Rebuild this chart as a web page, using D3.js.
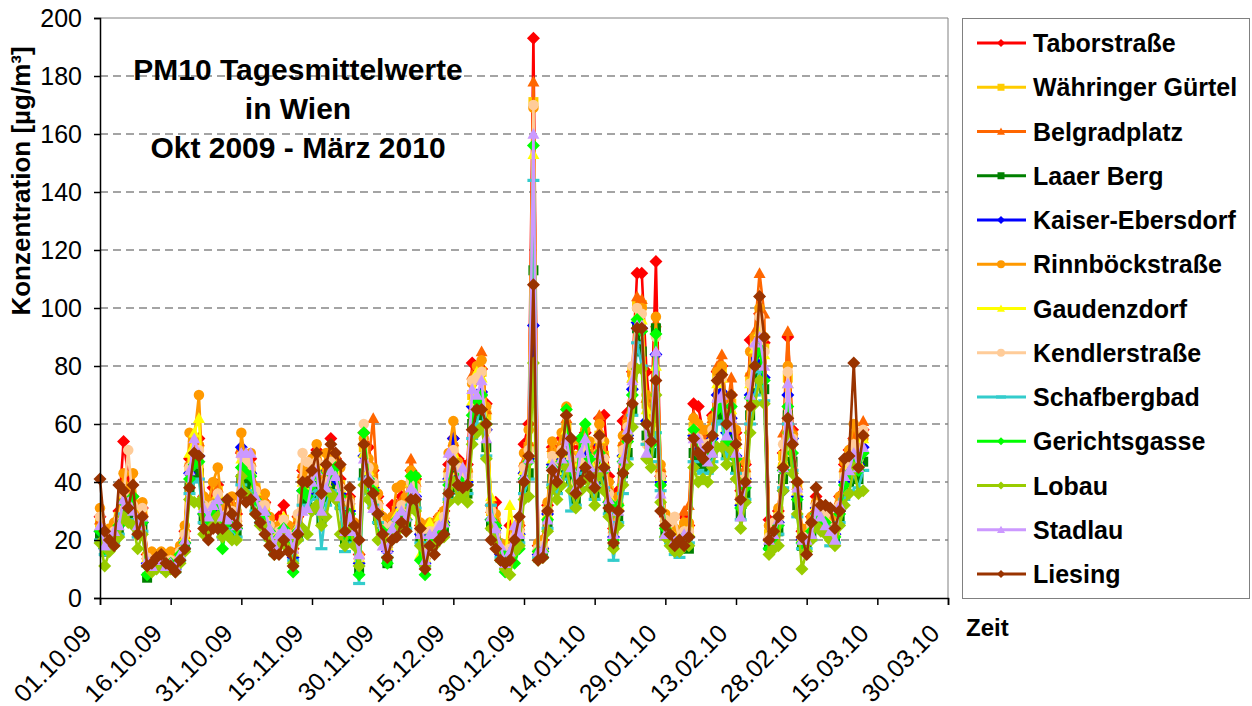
<!DOCTYPE html>
<html>
<head>
<meta charset="utf-8">
<script src="https://cdn.jsdelivr.net/npm/d3@7"></script>
<style>
  body { margin: 0; background: #fff; }
  text { font-family: "Liberation Sans", Arial, sans-serif; }
</style>
</head>
<body>
<script>
// ----------------------------------- DATA --------------------------------------------
// daily means, one value per day starting 01.10.2009
var firstDay = [2009, 9, 1]
var lastTickDay = [2010, 2, 30]
var tickStepDays = 15
var yTicks = [0, 20, 40, 60, 80, 100, 120, 140, 160, 180, 200]

var stationNames = ['Taborstraße', 'Währinger Gürtel', 'Belgradplatz', 'Laaer Berg', 'Kaiser-Ebersdorf',
	'Rinnböckstraße', 'Gaudenzdorf', 'Kendlerstraße', 'Schafbergbad', 'Gerichtsgasse', 'Lobau', 'Stadlau', 'Liesing']

var taborstrasse = [28,21,23,25,30,54,42,35,29,31, 15,13,14,15,13,14,13,17,23,48, 54,55,35,32,38,39,29,31,32,29,
	50,45,48,37,33,33,27,21,28,32, 24,17,28,44,41,46,51,35,44,55, 48,41,25,35,25,15,57,52,44,35,
	28,20,32,32,35,32,44,41,25,15, 25,25,28,30,46,55,48,46,46,81, 76,79,67,32,33,18,14,25,23,25,
	53,60,193,18,20,32,52,48,55,63, 52,44,52,57,52,46,62,63,42,24, 37,61,64,78,112,112,78,60,116,42,
	28,25,23,22,28,25,67,66,57,57, 63,78,80,64,70,57,37,46,89,88, 98,88,27,25,30,50,90,58,40,23,
	23,28,35,32,31,28,25,35,46,51, 55,52,58]
var waehringerGuertel = [26,19,22,24,28,37,35,32,27,29, 14,12,13,14,12,13,12,16,22,45, 51,52,32,30,32,37,27,29,30,27,
	50,48,45,38,32,32,26,19,24,27, 23,16,26,41,39,43,48,32,41,48, 45,39,24,32,24,14,52,45,41,32,
	26,18,26,30,32,30,41,39,24,14, 24,24,26,28,43,52,45,43,43,70, 76,78,63,30,26,17,13,17,22,24,
	45,52,171,17,18,30,50,45,52,59, 49,41,49,54,49,43,56,49,37,23, 32,52,60,78,101,101,67,59,92,43,
	27,24,22,21,24,24,59,56,54,54, 59,76,78,60,67,54,35,43,76,89, 99,86,22,24,28,49,76,56,38,22,
	22,26,32,30,29,26,24,32,43,48, 54,49,56]
var belgradplatz = [27,20,22,25,29,38,36,34,28,30, 15,12,13,15,12,13,12,17,22,47, 53,54,34,31,34,38,28,30,31,28,
	52,49,47,39,34,34,27,20,25,28, 24,17,27,43,40,45,49,34,43,49, 47,40,25,34,25,15,54,47,62,34,
	27,19,27,31,34,31,48,40,25,15, 25,25,27,29,45,54,47,45,45,77, 78,85,65,31,27,18,13,18,22,25,
	47,54,178,18,19,31,52,47,54,62, 50,43,50,56,50,45,63,50,38,24, 34,54,63,76,104,103,69,62,95,45,
	28,25,22,21,30,32,63,58,56,56, 62,80,84,63,76,56,36,45,78,92, 112,98,22,25,29,57,92,58,39,22,
	22,27,34,31,30,27,25,34,45,49, 56,50,61]
var laaerBerg = [22,16,18,20,23,31,29,27,23,24, 7,10,11,12,10,11,10,14,18,38, 42,43,27,25,27,31,23,24,25,23,
	41,40,38,32,27,27,22,16,20,23, 19,12,22,34,32,36,40,27,34,40, 38,32,20,27,20,10,43,38,34,27,
	22,12,22,25,27,25,34,32,20,12, 20,20,22,23,36,43,38,36,36,60, 63,65,52,25,22,14,11,14,18,20,
	38,43,113,14,15,25,41,38,43,50, 41,34,41,45,41,36,47,41,31,19, 27,43,50,65,93,85,56,50,93,40,
	23,20,18,17,20,17,50,47,45,45, 50,63,65,50,56,45,29,36,63,74, 83,72,18,20,23,41,63,47,32,18,
	18,22,27,25,24,22,20,27,36,40, 45,41,47]
var kaiserEbersdorf = [23,17,21,22,25,33,31,31,24,26, 12,11,12,14,11,12,10,15,19,43, 46,49,29,28,31,33,24,27,29,24,
	52,44,43,34,30,29,24,17,22,26, 21,14,24,37,36,41,44,29,39,45, 41,36,21,30,23,12,49,41,38,29,
	24,16,24,27,31,27,39,35,22,12, 22,21,25,26,41,55,42,39,40,66, 70,71,58,27,24,15,12,16,19,22,
	43,48,94,15,17,29,46,41,48,56, 44,38,46,50,44,40,53,45,33,21, 30,49,56,72,95,93,61,63,84,40,
	25,21,20,19,23,21,56,51,50,49, 55,70,71,57,62,49,32,41,70,82, 91,76,20,22,26,37,70,55,35,20,
	20,24,31,28,27,24,22,30,40,44, 50,46,52]
var rinnboeckstrasse = [31,22,24,26,28,43,38,43,30,33, 15,16,15,16,15,16,14,18,25,57, 55,70,35,33,40,45,30,32,35,30,
	57,45,50,38,33,36,28,22,25,27, 25,18,28,45,42,48,53,40,50,50, 48,45,26,34,26,15,55,48,45,36,
	28,20,28,38,39,35,44,42,26,15, 26,26,28,30,50,61,47,44,44,74, 80,82,66,32,29,19,14,19,24,26,
	50,58,169,19,20,33,54,50,57,66, 54,45,54,58,54,48,60,54,40,25, 35,56,60,77,100,100,70,62,97,46,
	29,26,24,22,26,26,62,60,58,58, 62,78,80,64,70,58,38,47,85,90, 100,90,25,26,31,46,80,56,40,24,
	24,28,33,32,31,28,26,35,47,51, 60,53,55]
var gaudenzdorf = [25,19,21,23,27,36,34,32,26,28, 14,12,13,14,12,13,12,16,21,50, 57,62,32,29,32,36,26,28,29,26,
	48,46,44,37,32,32,25,19,23,28, 22,16,25,40,38,42,46,32,40,46, 44,38,23,32,23,14,50,44,40,32,
	25,18,25,29,32,29,40,38,15,14, 26,23,28,27,42,50,44,42,42,68, 78,76,61,35,25,17,13,32,21,23,
	44,50,153,17,18,29,48,44,50,58, 47,40,47,53,47,42,55,47,35,20, 32,50,58,76,97,96,65,58,80,42,
	26,23,21,20,23,23,58,55,53,53, 58,74,76,59,65,53,34,42,74,86, 92,84,21,23,27,47,74,55,37,21,
	21,25,32,30,28,25,23,32,42,46, 53,47,55]
var kendlerstrasse = [28,19,21,23,27,36,51,32,27,31, 14,12,13,14,12,13,12,16,22,45, 50,51,32,30,32,36,27,29,30,27,
	49,47,45,37,32,32,25,19,23,27, 22,16,29,50,47,42,47,32,40,47, 45,38,23,33,23,14,60,45,40,32,
	25,18,25,25,32,30,40,38,23,14, 23,23,25,28,42,51,45,42,42,75, 76,78,58,30,22,17,13,17,21,23,
	45,51,170,17,18,30,49,45,51,63, 48,40,48,53,48,42,55,48,36,22, 32,51,59,80,100,98,53,58,90,42,
	27,26,28,20,23,23,58,55,53,53, 58,75,76,59,66,53,34,42,74,87, 97,85,21,26,28,53,78,55,37,21,
	21,25,32,30,29,25,23,32,42,47, 53,48,58]
var schafbergbad = [20,15,17,19,22,29,27,26,21,23, 11,9,10,11,9,10,9,13,17,36, 40,41,26,24,26,29,21,23,24,21,
	39,37,36,30,26,26,20,15,19,21, 18,13,20,32,31,34,37,17,32,37, 36,31,16,26,19,5,41,36,32,26,
	20,14,20,24,26,24,32,31,19,11, 19,19,20,22,34,41,36,34,36,55, 60,70,49,32,20,14,10,14,17,19,
	36,41,144,14,14,24,39,36,41,47, 30,32,38,43,38,34,44,38,29,13, 26,36,48,63,88,80,53,47,57,37,
	21,19,15,14,19,19,47,44,43,43, 47,60,61,48,53,43,27,34,60,70, 78,68,17,19,22,38,60,44,28,17,
	17,20,26,24,23,18,19,26,34,37, 43,38,44]
var gerichtsgasse = [23,17,19,21,25,33,31,35,24,26, 8,11,12,13,11,12,11,15,19,41, 46,47,29,27,29,33,17,26,27,24,
	45,43,42,34,29,29,23,17,21,24, 20,9,23,37,35,39,43,29,37,43, 45,35,21,29,21,8,57,41,37,29,
	23,12,23,27,29,27,42,42,13,8, 21,21,23,25,39,47,41,39,39,63, 68,70,60,27,25,16,9,15,12,17,
	41,47,156,16,16,27,45,41,47,65, 44,37,55,60,48,39,50,44,33,20, 32,47,54,70,96,92,60,53,91,39,
	24,21,19,18,21,21,58,50,49,49, 53,65,66,54,66,48,31,38,69,80, 86,75,17,21,25,44,66,50,34,19,
	19,23,29,27,26,23,21,29,39,43, 49,44,50]
var lobau = [19,11,16,18,21,28,26,25,17,22, 11,9,10,11,9,10,9,12,16,34, 33,33,22,23,25,28,21,22,20,20,
	42,36,34,29,25,25,20,15,18,21, 17,12,20,24,22,30,32,25,28,36, 34,22,18,25,18,11,39,34,31,20,
	20,14,20,23,25,23,31,30,18,11, 18,18,20,21,33,40,34,36,33,53, 57,59,48,24,20,13,10,8,16,18,
	34,35,81,13,14,23,38,34,39,45, 37,31,37,41,38,32,43,37,28,17, 25,39,46,59,79,79,48,45,70,33,
	21,18,16,16,18,18,45,40,41,40, 45,52,52,46,51,41,24,33,57,67, 75,67,15,17,18,37,57,43,29,10,
	16,20,25,23,22,20,18,25,32,36, 45,36,37]
var stadlau = [25,18,20,23,25,34,33,30,25,28, 13,11,13,13,11,12,11,15,20,44, 55,50,31,28,32,34,28,27,28,25,
	50,50,50,35,30,30,24,18,22,24, 22,17,24,30,31,40,44,30,38,44, 42,35,23,28,23,15,48,42,31,30,
	18,17,24,28,30,28,38,36,22,13, 22,22,25,26,50,48,40,45,40,72, 70,75,55,28,24,18,12,16,25,22,
	42,48,160,16,17,27,46,42,48,55, 45,38,50,55,45,40,50,45,34,22, 30,48,58,75,94,94,50,55,85,36,
	22,22,20,19,22,22,55,55,50,47, 50,69,70,56,62,50,28,40,70,88, 90,80,20,22,27,45,74,55,38,20,
	20,22,30,28,25,23,20,32,42,44, 50,45,52]
var liesing = [41,23,20,18,39,37,31,39,22,28, 11,12,14,15,12,11,9,13,17,38, 50,49,24,20,24,24,24,34,29,25,
	36,33,34,29,26,22,18,15,15,20, 16,11,22,40,40,44,50,36,46,53, 50,46,23,38,25,20,53,40,36,29,
	22,14,20,21,26,23,34,34,24,10, 18,15,20,22,36,47,39,38,39,58, 65,65,60,20,17,13,12,13,20,28,
	40,49,108,13,14,30,44,40,50,63, 55,36,40,45,42,38,56,45,31,19, 30,43,55,67,93,93,60,54,75,30,
	25,22,18,20,18,21,55,50,48,52, 56,75,77,60,70,53,34,40,66,80, 104,90,20,23,28,45,62,53,40,21,
	15,26,38,32,32,31,24,30,48,49, 81,45,56]

var stationValues = [taborstrasse, waehringerGuertel, belgradplatz, laaerBerg, kaiserEbersdorf,
	rinnboeckstrasse, gaudenzdorf, kendlerstrasse, schafbergbad, gerichtsgasse, lobau, stadlau, liesing]
// ----------------------------------------------------------------------------------------------

// ----------------------------------- STYLES --------------------------------------------
var stationColors = ['#FF0000', '#FFCC00', '#FF6600', '#008000', '#0000FF', '#FF9900', '#FFFF00',
	'#FFCC99', '#33CCCC', '#00FF00', '#99CC00', '#CC99FF', '#993300']
var stationShapes = ['diamond', 'square', 'triangle', 'square', 'diamond', 'circle', 'triangle',
	'circle', 'dash', 'diamond', 'diamond', 'triangle', 'diamond']
var plotSize = {diamond: 13, square: 10, triangle: 12, circle: 10.5, dash: 12}
var legendSize = {diamond: 8, square: 7, triangle: 8, circle: 8, dash: 10}
// ----------------------------------------------------------------------------------------------

// ----------------------------------- SVG and BACKGROUND --------------------------------------------
var width = 1252
var height = 706
var plotLeft = 100, plotRight = 948, plotTop = 18, plotBottom = 598

var svg = d3.select('body')
			.append('svg')
			.attr('width', width)
			.attr('height', height)

svg.append('rect')
	.attr('width', '100%')
	.attr('height', '100%')
	.attr('fill', '#ffffff')

var stations = stationNames.map(function(name, i){
	return {name: name, values: stationValues[i], color: stationColors[i], shape: stationShapes[i]}
})
// ----------------------------------------------------------------------------------------------

// ----------------------------------- SCALES --------------------------------------------
var day0 = Date.UTC(firstDay[0], firstDay[1], firstDay[2])
var dayN = Date.UTC(lastTickDay[0], lastTickDay[1], lastTickDay[2])
function dayDate(i){ return new Date(Date.UTC(firstDay[0], firstDay[1], firstDay[2] + i)) }

var x = d3.scaleUtc()
	.domain([new Date(day0), new Date(dayN)])
	.range([plotLeft, plotRight])

var y = d3.scaleLinear()
	.domain([0, 200])
	.range([plotBottom, plotTop])

var nTicks = Math.round((dayN - day0) / 864e5 / tickStepDays)
var xTickValues = d3.range(nTicks + 1).map(function(k){ return dayDate(k * tickStepDays) })
// ----------------------------------------------------------------------------------------------

// ----------------------------------- GRID and FRAME --------------------------------------------
svg.append('g')
	.selectAll('line')
	.data(yTicks.filter(function(t){ return t > 0 && t < 200 }))
	.enter()
	.append('line')
	.attr('x1', plotLeft)
	.attr('x2', plotRight)
	.attr('y1', function(d){ return y(d) })
	.attr('y2', function(d){ return y(d) })
	.attr('stroke', '#4a4a4a')
	.attr('stroke-width', 1.2)
	.attr('stroke-dasharray', '8,5')

// plot area border (top + right)
svg.append('path')
	.attr('d', 'M' + plotLeft + ',' + plotTop + 'H' + plotRight + 'V' + plotBottom)
	.attr('fill', 'none')
	.attr('stroke', '#808080')
	.attr('stroke-width', 1)
// ----------------------------------------------------------------------------------------------

// ----------------------------------- MARKERS --------------------------------------------
function markerPath(shape, s){
	var h = s / 2
	if (shape == 'diamond') return 'M0,' + (-h) + 'L' + h + ',0L0,' + h + 'L' + (-h) + ',0Z'
	if (shape == 'square') return 'M' + (-h) + ',' + (-h) + 'h' + s + 'v' + s + 'h' + (-s) + 'Z'
	if (shape == 'triangle') return 'M0,' + (-h) + 'L' + h + ',' + (h * 0.8) + 'L' + (-h) + ',' + (h * 0.8) + 'Z'
	if (shape == 'circle') return d3.symbol(d3.symbolCircle, Math.PI * h * h)()
	return 'M' + (-h) + ',-1.6h' + s + 'v3.2h' + (-s) + 'Z'
}
// ----------------------------------------------------------------------------------------------

// ----------------------------------- SERIES --------------------------------------------
var line = d3.line()
	.x(function(d, i){ return x(dayDate(i)) })
	.y(function(d){ return y(d) })

var series = svg.append('g')
	.selectAll('g')
	.data(stations)
	.enter()
	.append('g')

series.append('path')
	.attr('d', function(d){ return line(d.values) })
	.attr('fill', 'none')
	.attr('stroke', function(d){ return d.color })
	.attr('stroke-width', 2.6)
	.attr('stroke-linejoin', 'round')

series.each(function(s){
	d3.select(this)
		.selectAll('path.marker')
		.data(s.values)
		.enter()
		.append('path')
		.attr('class', 'marker')
		.attr('d', markerPath(s.shape, plotSize[s.shape]))
		.attr('transform', function(d, i){ return 'translate(' + x(dayDate(i)) + ',' + y(d) + ')' })
		.attr('fill', s.color)
})
// ----------------------------------------------------------------------------------------------

// ----------------------------------- AXES --------------------------------------------
var yAxis = svg.append('g')
	.attr('transform', 'translate(' + plotLeft + ',0)')
	.call(d3.axisLeft(y).tickValues(yTicks).tickSize(6).tickPadding(12))

var xAxis = svg.append('g')
	.attr('transform', 'translate(0,' + plotBottom + ')')
	.call(d3.axisBottom(x).tickValues(xTickValues).tickSize(7).tickFormat(''))

svg.selectAll('.domain, .tick line')
	.attr('stroke', '#000')
	.attr('stroke-width', 1.5)

yAxis.selectAll('text')
	.attr('font-size', 25)
	.attr('fill', '#000')
	.style('font-family', '"Liberation Sans", Arial, sans-serif')

svg.append('g')
	.selectAll('text')
	.data(xTickValues)
	.enter()
	.append('text')
	.attr('transform', function(d){ return 'translate(' + (x(d) - 7) + ',' + (plotBottom + 37) + ') rotate(-45)' })
	.attr('text-anchor', 'end')
	.attr('font-size', 25)
	.text(d3.utcFormat('%d.%m.%y'))

svg.append('text')
	.attr('transform', 'translate(30,181) rotate(-90)')
	.attr('text-anchor', 'middle')
	.attr('font-size', 26)
	.attr('font-weight', 'bold')
	.text('Konzentration [µg/m³]')

svg.append('text')
	.attr('x', 966)
	.attr('y', 636)
	.attr('font-size', 24)
	.attr('font-weight', 'bold')
	.text('Zeit')
// ----------------------------------------------------------------------------------------------

// ----------------------------------- TITLE --------------------------------------------
var titleLines = ['PM10 Tagesmittelwerte', 'in Wien', 'Okt 2009 - März 2010']

svg.append('g')
	.selectAll('text')
	.data(titleLines)
	.enter()
	.append('text')
	.attr('x', 298)
	.attr('y', function(d, i){ return 80 + i * 39 })
	.attr('text-anchor', 'middle')
	.attr('font-size', 30)
	.attr('font-weight', 'bold')
	.text(function(d){ return d })
// ----------------------------------------------------------------------------------------------

// ----------------------------------- LEGEND --------------------------------------------
var legend = svg.append('g')

legend.append('rect')
	.attr('x', 962.5)
	.attr('y', 18.5)
	.attr('width', 287)
	.attr('height', 580)
	.attr('fill', '#fff')
	.attr('stroke', '#808080')

var items = legend.selectAll('g.item')
	.data(stations)
	.enter()
	.append('g')
	.attr('class', 'item')
	.attr('transform', function(d, i){ return 'translate(0,' + (43 + i * 44.25) + ')' })

items.append('line')
	.attr('x1', 977)
	.attr('x2', 1026)
	.attr('stroke', function(d){ return d.color })
	.attr('stroke-width', 3)

items.append('path')
	.attr('d', function(d){ return markerPath(d.shape, legendSize[d.shape]) })
	.attr('transform', 'translate(1001,0)')
	.attr('fill', function(d){ return d.color })

items.append('text')
	.attr('x', 1033)
	.attr('y', 9)
	.attr('font-size', 25)
	.attr('font-weight', 'bold')
	.text(function(d){ return d.name })
// ----------------------------------------------------------------------------------------------
</script>
</body>
</html>
